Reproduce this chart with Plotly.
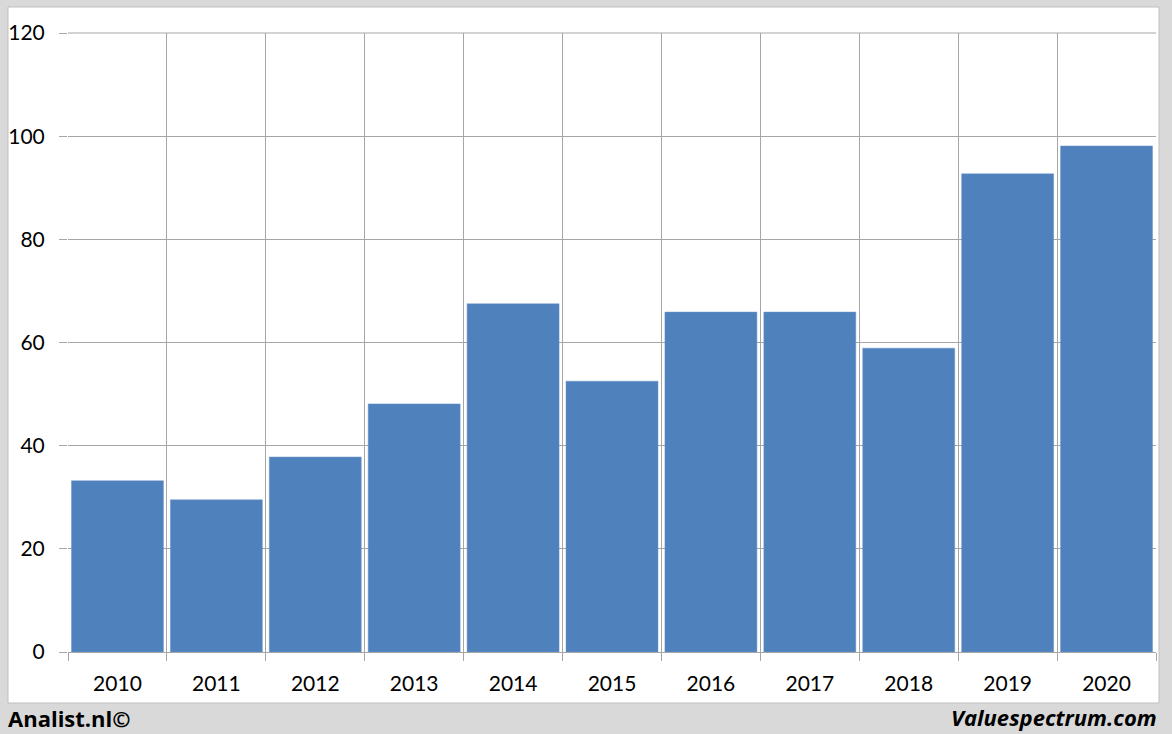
import plotly.graph_objects as go

years = [2010, 2011, 2012, 2013, 2014, 2015, 2016, 2017, 2018, 2019, 2020]
values = [33.2, 29.5, 37.8, 48.1, 67.5, 52.5, 65.9, 65.9, 58.9, 92.7, 98.1]
y_ticks = [0, 20, 40, 60, 80, 100, 120]

W, H = 1172, 734
L, R, T, B = 68, 1156, 33, 652
pw, ph = R - L, B - T

def px(x):
    return (x - L) / pw

def py(y):
    return (B - y) / ph

fig = go.Figure(go.Bar(
    x=years, y=values, marker=dict(color="#4F81BD", line=dict(color="#6f97c9", width=0.5)),
    width=0.93,
))

grid = "#a6a6a6"
font = dict(family="Lato, Open Sans, sans-serif", size=21, color="#000000")

fig.update_layout(
    width=W, height=H,
    margin=dict(l=L, r=W - R, t=T, b=H - B, pad=0),
    paper_bgcolor="#d9d9d9",
    plot_bgcolor="#ffffff",
    showlegend=False,
    font=font,
    xaxis=dict(
        type="linear", range=[years[0] - 0.5, years[-1] + 0.5],
        tickvals=years, ticktext=[str(y) for y in years],
        showgrid=False, ticks="", zeroline=False, automargin=False,
        showline=True, linecolor=grid, linewidth=1,
        ticklabelstandoff=13,
        minor=dict(tick0=years[0] - 0.5, dtick=1, showgrid=True, gridcolor=grid, gridwidth=1,
                   ticks="outside", ticklen=8, tickcolor=grid),
        tickfont=font,
    ),
    yaxis=dict(
        range=[0, 120], tickvals=y_ticks, showgrid=True, gridcolor=grid, gridwidth=1,
        ticks="outside", ticklen=8, tickcolor=grid, zeroline=False, automargin=False,
        showline=False, ticklabelstandoff=10, tickfont=font,
    ),
    shapes=[
        dict(type="rect", xref="paper", yref="paper", layer="below",
             x0=px(8), x1=px(1159), y0=py(703), y1=py(7),
             fillcolor="#ffffff", line=dict(color="#bfbfbf", width=1)),
        dict(type="line", xref="paper", yref="paper", layer="above",
             x0=0, x1=1, y0=1, y1=1, line=dict(color=grid, width=1)),
    ],
    annotations=[
        dict(text="<b>Analist.nl©</b>", xref="paper", yref="paper",
             x=px(6), y=py(718), xanchor="left", yanchor="middle", showarrow=False,
             font=dict(family="Open Sans, Lato, sans-serif", size=22, color="#000000")),
        dict(text="<b><i>Valuespectrum.com</i></b>", xref="paper", yref="paper",
             x=px(1159), y=py(717), xanchor="right", yanchor="middle", showarrow=False,
             font=dict(family="Open Sans, Lato, sans-serif", size=22, color="#000000")),
    ],
)

fig.write_html("out.html", config={"displayModeBar": False})
with open("out.html", "r", encoding="utf-8") as f:
    html = f.read()
html = html.replace("<head>", "<head><style>html,body{margin:0;padding:0;overflow:hidden;}</style>", 1)
with open("out.html", "w", encoding="utf-8") as f:
    f.write(html)
